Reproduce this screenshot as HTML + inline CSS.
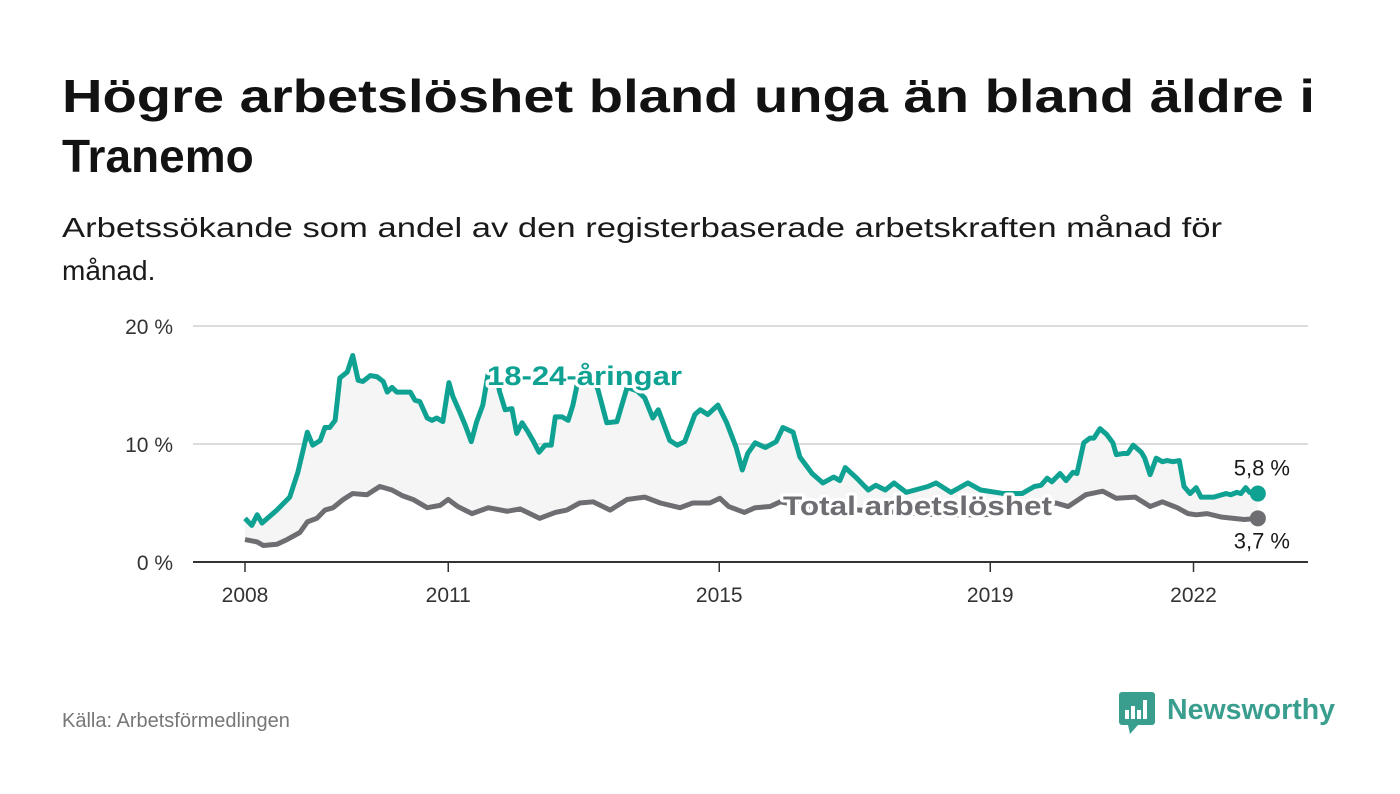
<!DOCTYPE html>
<html><head><meta charset="utf-8"><style>
body{margin:0;background:#fff;}
svg{display:block;font-family:"Liberation Sans","DejaVu Sans",sans-serif;}
</style></head><body>
<svg id="c" width="1400" height="794" viewBox="0 0 1400 794">
<rect width="1400" height="794" fill="#fff"/>
<text x="62" y="112" font-size="46" font-weight="bold" fill="#121212" textLength="1253" lengthAdjust="spacingAndGlyphs">Högre arbetslöshet bland unga än bland äldre i</text>
<text x="62" y="172" font-size="46" font-weight="bold" fill="#121212">Tranemo</text>
<text x="62" y="237" font-size="28" fill="#1a1a1a" textLength="1160" lengthAdjust="spacingAndGlyphs">Arbetssökande som andel av den registerbaserade arbetskraften månad för</text>
<text x="62" y="280" font-size="28" fill="#1a1a1a">månad.</text>
<g id="grid"></g>
<g id="plot"></g>
<text x="62" y="727" font-size="20" fill="#777">Källa: Arbetsförmedlingen</text>
<g>
<rect x="1119" y="692" width="36" height="33" rx="3" fill="#3a9e8f"/>
<polygon points="1128,725 1138,725 1130,734" fill="#3a9e8f"/>
<rect x="1125" y="710" width="4" height="9" fill="#fff"/><rect x="1131" y="706" width="4" height="13" fill="#fff"/><rect x="1137" y="710" width="4" height="9" fill="#fff"/><rect x="1143" y="700" width="4" height="19" fill="#fff"/>
<text x="1167" y="719" font-size="29" font-weight="bold" fill="#3a9e8f" textLength="168" lengthAdjust="spacingAndGlyphs">Newsworthy</text>
</g>
</svg>
<script>
const youthYears=[0.00,0.10,0.18,0.25,0.47,0.66,0.78,0.92,1.00,1.11,1.18,1.25,1.33,1.40,1.51,1.59,1.67,1.74,1.85,1.95,2.04,2.10,2.17,2.24,2.44,2.51,2.58,2.69,2.76,2.83,2.92,3.01,3.07,3.17,3.25,3.34,3.42,3.51,3.59,3.68,3.76,3.84,3.94,4.01,4.09,4.18,4.25,4.34,4.43,4.52,4.58,4.68,4.77,4.84,4.92,5.02,5.12,5.21,5.34,5.49,5.64,5.79,5.90,6.02,6.10,6.27,6.38,6.49,6.64,6.72,6.83,6.98,7.11,7.25,7.34,7.42,7.53,7.68,7.84,7.94,8.09,8.19,8.37,8.53,8.69,8.78,8.86,9.03,9.20,9.31,9.45,9.58,9.76,10.08,10.20,10.42,10.67,10.86,11.20,11.47,11.65,11.75,11.84,11.91,12.03,12.12,12.22,12.28,12.38,12.47,12.53,12.62,12.72,12.81,12.86,12.97,13.03,13.11,13.23,13.28,13.36,13.45,13.54,13.61,13.70,13.79,13.86,13.95,14.04,14.11,14.30,14.48,14.55,14.64,14.70,14.77,14.83,14.95];
const youthValues=[3.7,3.1,4.0,3.3,4.4,5.5,7.6,11.0,9.9,10.3,11.4,11.4,12.0,15.6,16.1,17.5,15.4,15.3,15.8,15.7,15.3,14.4,14.8,14.4,14.4,13.7,13.6,12.2,12.0,12.2,11.9,15.2,14.0,12.7,11.6,10.2,11.9,13.3,16.0,16.5,14.4,12.9,13.0,10.9,11.8,11.0,10.3,9.3,9.9,9.9,12.3,12.3,12.0,13.3,15.5,16.5,16.0,14.6,11.8,11.9,14.8,14.5,13.9,12.2,12.9,10.3,9.9,10.2,12.5,12.9,12.5,13.3,11.8,9.7,7.8,9.2,10.1,9.7,10.2,11.4,11.0,8.9,7.5,6.7,7.2,6.9,8.0,7.1,6.1,6.5,6.1,6.7,5.9,6.4,6.7,5.9,6.7,6.1,5.8,5.8,6.4,6.5,7.1,6.8,7.5,6.9,7.6,7.5,10.1,10.5,10.5,11.3,10.8,10.1,9.1,9.2,9.2,9.9,9.3,8.8,7.4,8.8,8.5,8.6,8.5,8.6,6.4,5.8,6.3,5.5,5.5,5.8,5.7,5.9,5.8,6.3,5.9,5.8];
const totalYears=[0.00,0.18,0.27,0.47,0.62,0.81,0.92,1.06,1.18,1.30,1.45,1.59,1.80,1.99,2.17,2.33,2.48,2.69,2.88,3.00,3.14,3.35,3.59,3.87,4.06,4.35,4.58,4.75,4.94,5.14,5.39,5.64,5.90,6.13,6.42,6.61,6.86,7.01,7.14,7.37,7.53,7.75,7.90,8.19,8.63,9.08,9.67,10.26,10.85,11.29,11.73,11.97,12.15,12.41,12.66,12.86,13.14,13.36,13.54,13.76,13.92,14.04,14.20,14.42,14.75,14.95];
const totalValues=[1.9,1.7,1.4,1.5,1.9,2.5,3.4,3.7,4.4,4.6,5.3,5.8,5.7,6.4,6.1,5.6,5.3,4.6,4.8,5.3,4.7,4.1,4.6,4.3,4.5,3.7,4.2,4.4,5.0,5.1,4.4,5.3,5.5,5.0,4.6,5.0,5.0,5.4,4.7,4.2,4.6,4.7,5.1,4.8,4.6,4.4,4.2,4.0,4.0,4.1,4.8,5.0,4.7,5.7,6.0,5.4,5.5,4.7,5.1,4.6,4.1,4.0,4.1,3.8,3.6,3.7];
const yTicks=[0,10,20];
const yTickLabels=["0 %","10 %","20 %"];
const xTicks=[2008,2011,2015,2019,2022];
const BASE=2008;
const NS="http://www.w3.org/2000/svg";
function xs(t){return 245+(t-BASE)*67.75;}
function ys(v){return 562-v*11.8;}
function mk(tag,attrs,parent){const e=document.createElementNS(NS,tag);for(const k in attrs)e.setAttribute(k,attrs[k]);parent.appendChild(e);return e;}
const grid=document.getElementById('grid'),plot=document.getElementById('plot');
yTicks.forEach((v,i)=>{
  if(v>0){const g=mk('line',{x1:193,x2:1308,y1:ys(v),y2:ys(v),stroke:'#dcdcdc','stroke-width':2},grid);
  
  }
  const t=mk('text',{x:173,y:ys(v)+8,'text-anchor':'end','font-size':21,fill:'#333'},grid);t.textContent=yTickLabels[i];
  
  
});
xTicks.forEach(yr=>{
  const l=mk('line',{x1:xs(yr),x2:xs(yr),y1:562,y2:572,stroke:'#333','stroke-width':1.5},grid);
  
  
  const t=mk('text',{x:xs(yr),y:602,'text-anchor':'middle','font-size':21,fill:'#333'},grid);t.textContent=yr;
  
  
});
const ax=mk('line',{x1:193,x2:1308,y1:562,y2:562,stroke:'#333','stroke-width':2},grid);


const yp=youthYears.map((t,i)=>[xs(BASE+t),ys(youthValues[i])]);
const tp=totalYears.map((t,i)=>[xs(BASE+t),ys(totalValues[i])]);
const area=mk('polygon',{points:yp.concat(tp.slice().reverse()).map(p=>p.join(',')).join(' '),fill:'#f5f5f5'},plot);


const lt=mk('polyline',{points:tp.map(p=>p.join(',')).join(' '),fill:'none',stroke:'#6e6d72','stroke-width':5,'stroke-linejoin':'round'},plot);


const ly=mk('polyline',{points:yp.map(p=>p.join(',')).join(' '),fill:'none',stroke:'#0fa293','stroke-width':5,'stroke-linejoin':'round'},plot);


const ye=yp[yp.length-1],te=tp[tp.length-1];
const d1=mk('circle',{cx:ye[0],cy:ye[1],r:8,fill:'#0fa293'},plot);


const d2=mk('circle',{cx:te[0],cy:te[1],r:8,fill:'#6e6d72'},plot);


const v1=mk('text',{x:1290,y:ye[1]-18,'text-anchor':'end','font-size':22,fill:'#1a1a1a'},plot);v1.textContent=youthValues[youthValues.length-1].toFixed(1).replace('.',',')+' %';


const v2=mk('text',{x:1290,y:te[1]+30,'text-anchor':'end','font-size':22,fill:'#1a1a1a'},plot);v2.textContent=totalValues[totalValues.length-1].toFixed(1).replace('.',',')+' %';


const s1=mk('text',{x:487,y:385,'font-size':27,'font-weight':'bold',fill:'#0fa293',stroke:'#fff','stroke-width':6,'paint-order':'stroke','stroke-linejoin':'round',textLength:195,lengthAdjust:'spacingAndGlyphs'},plot);s1.textContent='18-24-åringar';


const s2=mk('text',{x:783,y:515,'font-size':27,'font-weight':'bold',fill:'#6e6d72',stroke:'#fff','stroke-width':6,'paint-order':'stroke','stroke-linejoin':'round',textLength:269,lengthAdjust:'spacingAndGlyphs'},plot);s2.textContent='Total arbetslöshet';


</script>
</body></html>
